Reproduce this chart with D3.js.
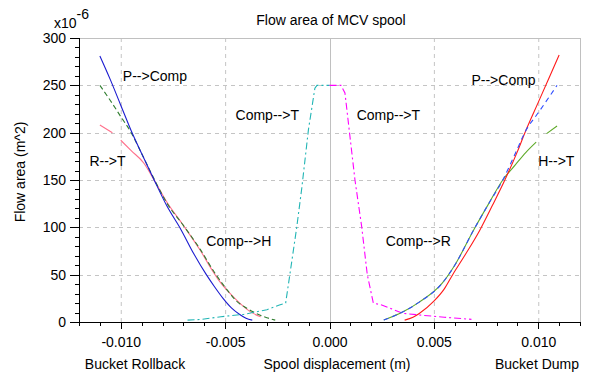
<!DOCTYPE html>
<html><head><meta charset="utf-8">
<script src="https://cdn.jsdelivr.net/npm/d3@7"></script>
<style>
html,body{margin:0;padding:0;background:#fff;}
svg text{font-family:"Liberation Sans",Arial,sans-serif;font-size:14px;fill:#000;}
</style></head>
<body><svg id="c" width="591" height="376"></svg>
<script>
// ---- data (spool displacement m, flow area x1e-6 m^2) ----
const blueLX  = [-0.0110,-0.0105,-0.0100,-0.0095,-0.0090,-0.0084,-0.0078,-0.0071,-0.0065,-0.0059,-0.0055,-0.0051,-0.0047,-0.0043,-0.0040,-0.0037];
const blueLY  = [281,256,229,202,178,150,123,97,72,50,37,25,15,8,4,2];
const greenLX = [-0.0110,-0.0105,-0.0100,-0.0095,-0.0090,-0.0084,-0.0078,-0.0070,-0.0062,-0.0055,-0.0048,-0.0045,-0.0040,-0.0035,-0.0030,-0.0026];
const greenLY = [250,234,217,200,178,151,126,102,77,52,31,23,15,9,4.5,2];
const pinkLX  = [-0.0110,-0.0104,-0.0102,-0.0100,-0.0095,-0.0089,-0.0084,-0.0078,-0.0070,-0.0062,-0.0056,-0.0053,-0.0048,-0.0043,-0.0038,-0.0033];
const pinkLY  = [208,200,null,192,181,168,150,127,102,76,54,44,31,20,11,5.5];
const cyanX   = [-0.0068,-0.0061,-0.0052,-0.0041,-0.0030,-0.0024,-0.0021,-0.0019,-0.00157,-0.00133,-0.00101,-0.0007,-0.0006,0];
const cyanY   = [2,2.8,5.6,8.1,13,18,20,50,100,141,203,247,250,250];
const magX    = [0,0.00055,0.00074,0.00122,0.00154,0.00181,0.0021,0.0025,0.0029,0.0035,0.0045,0.0055,0.0068];
const magY    = [250,250,242,150,101,50,20,18,14.5,9.2,7,5,2.8];
const redRX   = [0.0036,0.0040,0.0043,0.0050,0.0055,0.0059,0.0065,0.0072,0.0078,0.0084,0.0090,0.0094,0.0100,0.0105,0.0110];
const redRY   = [2,5,9,22,35,50,71,97,123,150,180,202,232,257,282];
const blueRX  = [0.0026,0.0035,0.0043,0.0054,0.0060,0.0069,0.0076,0.0083,0.0089,0.0094,0.0100,0.0105,0.0109];
const blueRY  = [2,10.5,21,41,60,97,124,150,178,202,221,237,250];
const greenRX = [0.0026,0.0035,0.0043,0.0054,0.0060,0.0069,0.0076,0.0083,0.0089,0.0094,0.0099,0.0101,0.0104,0.0109];
const greenRY = [2,10.5,21,41,60,97,124,150,166,179,190,null,199,207];

const xMajor = [-0.010,-0.005,0,0.005,0.010];
const yMajor = [0,50,100,150,200,250,300];
const seriesLabels = ["P-->Comp","R-->T","Comp-->T","Comp-->T","Comp-->H","P-->Comp","H-->T","Comp-->R"];
const labelX = [-0.0099,-0.0115,-0.0045,0.0013,-0.0059,0.0068,0.0100,0.0027];
const labelY = [255,165,213,213,80,250,165,80];

// ---- chart ----
const svg = d3.select("#c");
const x = d3.scaleLinear().domain([-0.012,0.012]).range([79,580]);
const y = d3.scaleLinear().domain([0,300]).range([322,38]);

// grid
const g = svg.append("g");
g.selectAll("line.gx").data(xMajor.filter(d=>d!==0)).enter().append("line")
  .attr("x1",d=>x(d)+0.5).attr("x2",d=>x(d)+0.5).attr("y1",y(300)).attr("y2",y(0))
  .attr("stroke","#c4c4c4").attr("stroke-dasharray","4,4");
g.selectAll("line.gy").data(yMajor.filter(d=>d>0&&d<300)).enter().append("line")
  .attr("x1",x(-0.012)).attr("x2",x(0.012)).attr("y1",d=>Math.round(y(d))+0.5).attr("y2",d=>Math.round(y(d))+0.5)
  .attr("stroke","#c4c4c4").attr("stroke-dasharray","4,4");
g.append("line").attr("x1",Math.round(x(0))+0.5).attr("x2",Math.round(x(0))+0.5).attr("y1",y(300)).attr("y2",y(0)).attr("stroke","#c0c0c0");
g.append("line").attr("x1",x(-0.012)).attr("x2",x(0.012)).attr("y1",Math.round(y(300))+0.5).attr("y2",Math.round(y(300))+0.5).attr("stroke","#c0c0c0");
g.append("line").attr("x1",Math.round(x(0.012))+0.5).attr("x2",Math.round(x(0.012))+0.5).attr("y1",y(300)).attr("y2",y(0)).attr("stroke","#c0c0c0");

// series
function draw(xs, ys, color, dash, curve){
  const pts = xs.map((v,i)=>[v,ys[i]]);
  const line = d3.line().defined(d=>d[1]!==null).x(d=>x(d[0])).y(d=>y(d[1])).curve(curve||d3.curveMonotoneX);
  svg.append("path").attr("d",line(pts)).attr("fill","none").attr("stroke",color)
    .attr("stroke-width",1.1).attr("stroke-dasharray",dash||null);
}
draw(pinkLX,pinkLY,"#ff6f8a",null);
draw(greenLX,greenLY,"#2f7d2f","5,3");
draw(blueLX,blueLY,"#1c1cd0",null);
draw(cyanX,cyanY,"#22b5b5","7,3,2,3",d3.curveLinear);
draw(magX,magY,"#ff00ff","7,3,2,3",d3.curveLinear);
draw(greenRX,greenRY,"#5faa2a",null);
draw(redRX,redRY,"#ff1a1a",null);
draw(blueRX,blueRY,"#2f4dff","5,4");

// axes
const ax = svg.append("g").attr("transform",`translate(0,${y(0)})`);
ax.call(d3.axisBottom(x).tickValues(d3.range(-12,13).map(i=>i/1000)).tickSize(4).tickFormat(""));
const ax2 = svg.append("g").attr("transform",`translate(0,${y(0)})`);
ax2.call(d3.axisBottom(x).tickValues(xMajor).tickSize(7).tickPadding(8).tickFormat(d=>d.toFixed(3)));
const ay = svg.append("g").attr("transform",`translate(${x(-0.012)},0)`);
ay.call(d3.axisLeft(y).tickValues(d3.range(0,301,10)).tickSize(4).tickFormat(""));
const ay2 = svg.append("g").attr("transform",`translate(${x(-0.012)},0)`);
ay2.call(d3.axisLeft(y).tickValues(yMajor).tickSize(9).tickPadding(4).tickFormat(d=>d));
[ax,ax2,ay,ay2].forEach(a=>{a.selectAll("path,line").attr("stroke","#000").attr("shape-rendering","crispEdges");
  a.selectAll("text").attr("font-family",null).attr("font-size",null).attr("fill","#000");});
ax2.select(".domain").attr("d",`M${x(-0.012)},0H${x(0.012)}`);
ay2.select(".domain").attr("d",`M0,${y(300)}V${y(0)}`);

// texts
svg.append("text").attr("x",331).attr("y",25).attr("text-anchor","middle").text("Flow area of MCV spool");
const mult = svg.append("text").attr("x",54).attr("y",28);
mult.append("tspan").text("x10");
mult.append("tspan").attr("dy",-9).text("-6");
svg.append("text").attr("transform","translate(25,172) rotate(-90)").attr("text-anchor","middle").text("Flow area (m^2)");
svg.append("text").attr("x",337).attr("y",369).attr("text-anchor","middle").text("Spool displacement (m)");
svg.append("text").attr("x",135).attr("y",369).attr("text-anchor","middle").text("Bucket Rollback");
svg.append("text").attr("x",537).attr("y",369).attr("text-anchor","middle").text("Bucket Dump");
svg.selectAll("text.lbl").data(seriesLabels).enter().append("text").attr("class","lbl")
  .attr("x",(d,i)=>x(labelX[i])).attr("y",(d,i)=>y(labelY[i])).text(d=>d);
</script></body></html>
